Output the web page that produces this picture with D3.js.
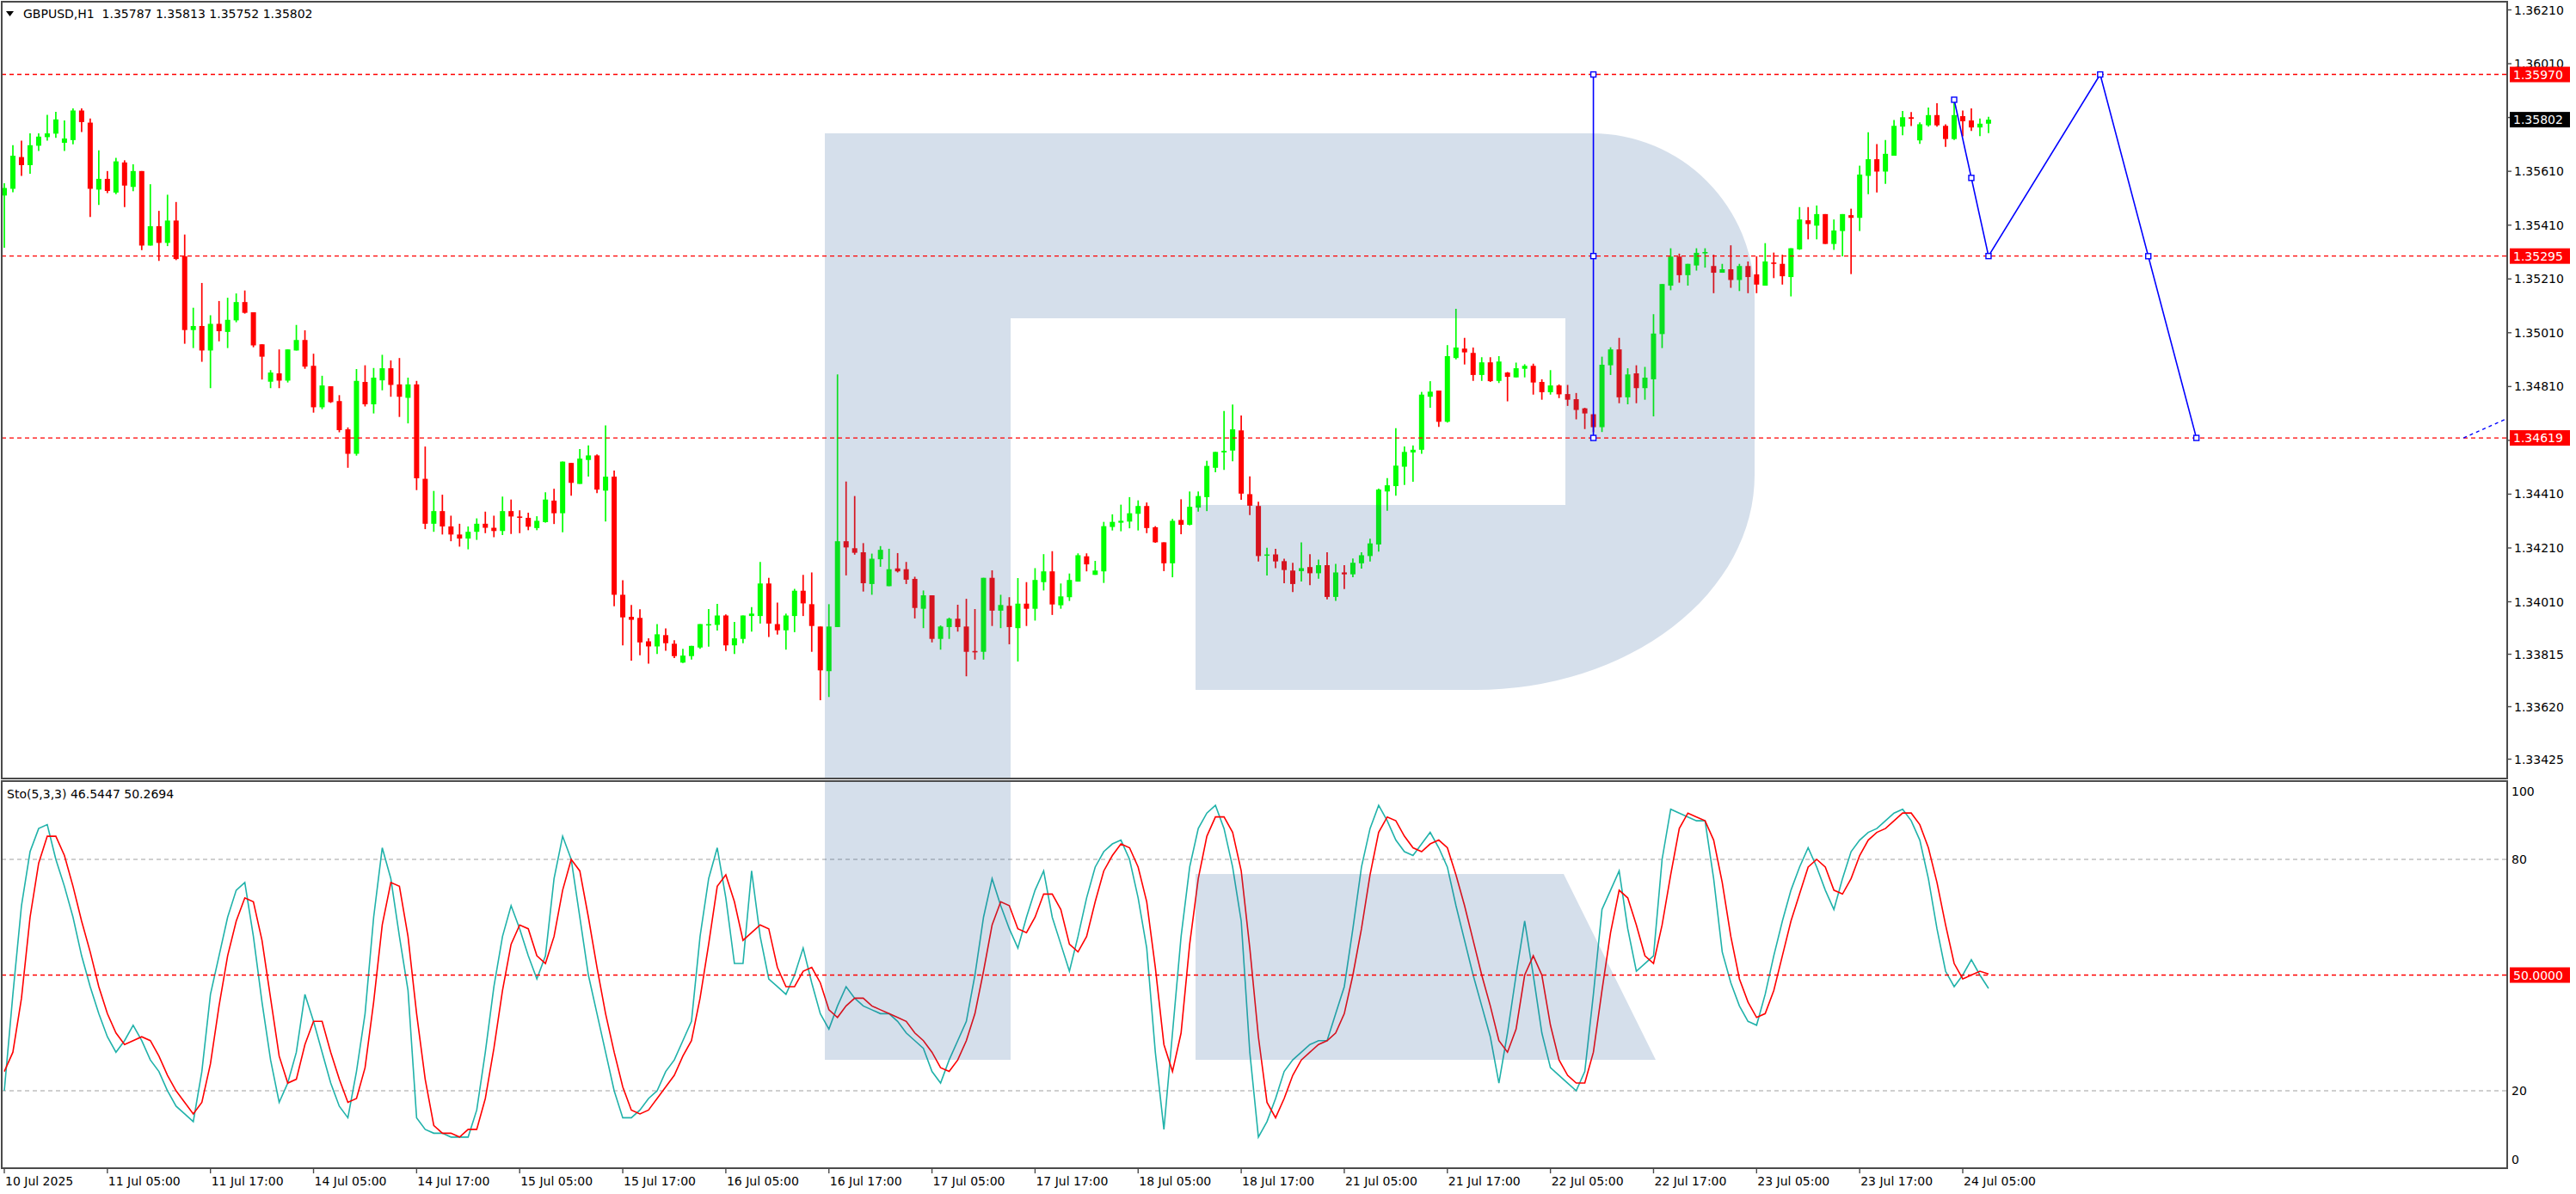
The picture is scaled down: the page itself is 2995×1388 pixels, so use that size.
<!DOCTYPE html>
<html><head><meta charset="utf-8">
<script src="https://cdn.jsdelivr.net/npm/d3@7"></script>
<style>
body{margin:0;background:#fff;}
svg{display:block;}
text{font-family:"DejaVu Sans",sans-serif;font-size:14px;fill:#000;white-space:pre;}
</style>
</head><body><svg id="c" width="2995" height="1388"></svg>
<script>
// ---------------- DATA ----------------
const headerText = "GBPUSD,H1  1.35787 1.35813 1.35752 1.35802";
const stochText = "Sto(5,3,3) 46.5447 50.2694";

const opens = [
1.35520,1.35545,1.35663,1.35633,1.35705,1.35737,1.35750,1.35716,1.35726,1.35836,
1.35791,1.35542,1.35582,1.35531,1.35643,1.35552,1.35611,1.35334,1.35406,1.35344,
1.35427,1.35294,1.35020,1.35035,1.34944,1.35043,1.35013,1.35056,1.35124,1.35086,
1.34967,1.34828,1.34859,1.34832,1.34944,1.34983,1.34887,1.34733,1.34811,1.34756,
1.34651,1.34560,1.34827,1.34744,1.34833,1.34878,1.34818,1.34768,1.34818,1.34467,
1.34300,1.34347,1.34290,1.34260,1.34245,1.34270,1.34300,1.34285,1.34273,1.34347,
1.34327,1.34322,1.34284,1.34306,1.34386,1.34339,1.34526,1.34448,1.34537,1.34554,
1.34423,1.34475,1.34036,1.33954,1.33950,1.33863,1.33844,1.33886,1.33854,1.33784,
1.33808,1.33840,1.33923,1.33924,1.33959,1.33848,1.33872,1.33957,1.33957,1.34078,
1.33927,1.33904,1.33957,1.34051,1.34001,1.33918,1.33752,1.33916,1.34235,1.34209,
1.34194,1.34076,1.34168,1.34068,1.34134,1.34131,1.34095,1.33984,1.34034,1.33872,
1.33916,1.33947,1.33918,1.33827,1.33824,1.34099,1.33977,1.33995,1.33912,1.34003,
1.33984,1.34083,1.34123,1.33997,1.34027,1.34085,1.34179,1.34110,1.34123,1.34288,
1.34304,1.34308,1.34337,1.34366,1.34287,1.34231,1.34153,1.34314,1.34296,1.34360,
1.34399,1.34508,1.34565,1.34572,1.34647,1.34410,1.34366,1.34181,1.34186,1.34161,
1.34126,1.34124,1.34139,1.34116,1.34146,1.34028,1.34119,1.34112,1.34153,1.34180,
1.34223,1.34420,1.34440,1.34512,1.34565,1.34575,1.34772,1.34795,1.34679,1.34916,
1.34951,1.34935,1.34853,1.34900,1.34831,1.34862,1.34844,1.34876,1.34887,1.34827,
1.34789,1.34814,1.34782,1.34763,1.34729,1.34707,1.34659,1.34889,1.34948,1.34770,
1.34859,1.34804,1.34837,1.35005,1.35185,1.35293,1.35224,1.35260,1.35305,1.35258,
1.35233,1.35246,1.35206,1.35258,1.35227,1.35185,1.35271,1.35266,1.35217,1.35320,
1.35428,1.35408,1.35451,1.35340,1.35388,1.35447,1.35437,1.35593,1.35655,1.35609,
1.35668,1.35776,1.35811,1.35725,1.35781,1.35819,1.35779,1.35730,1.35815,1.35799,
1.35773,1.35787];

const highs = [
1.35566,1.35707,1.35724,1.35751,1.35751,1.35820,1.35831,1.35799,1.35844,1.35844,
1.35806,1.35688,1.35611,1.35660,1.35651,1.35636,1.35611,1.35562,1.35463,1.35523,
1.35496,1.35375,1.35103,1.35195,1.35075,1.35128,1.35140,1.35156,1.35167,1.35086,
1.34967,1.34871,1.34948,1.34948,1.35039,1.35019,1.34932,1.34850,1.34811,1.34778,
1.34658,1.34875,1.34889,1.34879,1.34928,1.34907,1.34916,1.34843,1.34831,1.34587,
1.34422,1.34408,1.34330,1.34300,1.34290,1.34320,1.34345,1.34330,1.34401,1.34390,
1.34350,1.34341,1.34328,1.34417,1.34430,1.34531,1.34526,1.34578,1.34591,1.34558,
1.34666,1.34498,1.34090,1.33998,1.33982,1.33874,1.33927,1.33911,1.33867,1.33835,
1.33846,1.33927,1.33983,1.34002,1.33963,1.33935,1.33959,1.33990,1.34158,1.34099,
1.34007,1.33966,1.34058,1.34110,1.34119,1.33918,1.34001,1.34855,1.34457,1.34403,
1.34228,1.34189,1.34217,1.34207,1.34191,1.34158,1.34103,1.34052,1.34034,1.33922,
1.33951,1.33999,1.34021,1.33983,1.34099,1.34127,1.34036,1.34027,1.34098,1.34083,
1.34135,1.34187,1.34198,1.34078,1.34115,1.34190,1.34190,1.34162,1.34307,1.34335,
1.34371,1.34399,1.34387,1.34379,1.34291,1.34231,1.34318,1.34391,1.34420,1.34420,
1.34534,1.34567,1.34719,1.34743,1.34702,1.34476,1.34382,1.34211,1.34207,1.34170,
1.34155,1.34231,1.34187,1.34167,1.34194,1.34151,1.34146,1.34171,1.34194,1.34244,
1.34431,1.34470,1.34655,1.34587,1.34591,1.34790,1.34830,1.34795,1.34964,1.35099,
1.34991,1.34955,1.34919,1.34919,1.34923,1.34864,1.34899,1.34893,1.34895,1.34837,
1.34871,1.34818,1.34816,1.34786,1.34731,1.34707,1.34921,1.34956,1.34991,1.34878,
1.34889,1.34883,1.35079,1.35191,1.35324,1.35304,1.35266,1.35324,1.35324,1.35300,
1.35266,1.35335,1.35266,1.35275,1.35294,1.35343,1.35308,1.35300,1.35324,1.35477,
1.35477,1.35483,1.35451,1.35431,1.35451,1.35471,1.35631,1.35755,1.35711,1.35726,
1.35801,1.35834,1.35830,1.35792,1.35847,1.35863,1.35785,1.35878,1.35836,1.35844,
1.35806,1.35813];

const lows = [
1.35326,1.35532,1.35593,1.35601,1.35686,1.35724,1.35734,1.35686,1.35710,1.35756,
1.35440,1.35485,1.35529,1.35525,1.35477,1.35536,1.35317,1.35334,1.35277,1.35332,
1.35280,1.34969,1.34953,1.34902,1.34804,1.34978,1.34953,1.35049,1.35081,1.34956,
1.34836,1.34804,1.34804,1.34825,1.34944,1.34876,1.34713,1.34726,1.34749,1.34640,
1.34508,1.34553,1.34736,1.34710,1.34796,1.34772,1.34697,1.34673,1.34425,1.34280,
1.34270,1.34260,1.34235,1.34215,1.34205,1.34240,1.34265,1.34250,1.34258,1.34262,
1.34265,1.34276,1.34276,1.34304,1.34299,1.34268,1.34404,1.34448,1.34475,1.34414,
1.34308,1.33993,1.33848,1.33791,1.33811,1.33780,1.33816,1.33828,1.33801,1.33782,
1.33795,1.33835,1.33843,1.33903,1.33827,1.33816,1.33856,1.33899,1.33929,1.33879,
1.33888,1.33832,1.33897,1.33957,1.33824,1.33644,1.33656,1.33916,1.34108,1.34185,
1.34048,1.34036,1.34140,1.34068,1.34119,1.34076,1.33948,1.33912,1.33859,1.33832,
1.33872,1.33899,1.33733,1.33795,1.33795,1.33920,1.33912,1.33852,1.33788,1.33920,
1.33940,1.34052,1.33961,1.33984,1.34013,1.34085,1.34123,1.34110,1.34080,1.34275,
1.34272,1.34283,1.34275,1.34265,1.34229,1.34124,1.34101,1.34261,1.34294,1.34345,
1.34347,1.34491,1.34500,1.34532,1.34389,1.34332,1.34160,1.34108,1.34135,1.34079,
1.34046,1.34085,1.34072,1.34096,1.34019,1.34013,1.34057,1.34101,1.34133,1.34160,
1.34196,1.34348,1.34404,1.34444,1.34456,1.34560,1.34731,1.34660,1.34676,1.34911,
1.34892,1.34831,1.34831,1.34827,1.34823,1.34755,1.34844,1.34844,1.34780,1.34761,
1.34780,1.34767,1.34738,1.34688,1.34652,1.34641,1.34641,1.34853,1.34748,1.34744,
1.34748,1.34761,1.34699,1.34953,1.35168,1.35196,1.35185,1.35241,1.35252,1.35157,
1.35233,1.35177,1.35165,1.35157,1.35157,1.35185,1.35213,1.35189,1.35145,1.35318,
1.35357,1.35357,1.35340,1.35318,1.35294,1.35228,1.35388,1.35525,1.35531,1.35563,
1.35668,1.35744,1.35778,1.35712,1.35776,1.35776,1.35701,1.35726,1.35740,1.35760,
1.35741,1.35752];

const closes = [
1.35548,1.35668,1.35633,1.35707,1.35739,1.35751,1.35803,1.35732,1.35836,1.35793,
1.35545,1.35582,1.35537,1.35647,1.35557,1.35611,1.35334,1.35406,1.35344,1.35427,
1.35284,1.35020,1.35035,1.34944,1.35043,1.35016,1.35058,1.35124,1.35084,1.34963,
1.34921,1.34862,1.34832,1.34948,1.34983,1.34884,1.34733,1.34814,1.34752,1.34648,
1.34560,1.34831,1.34744,1.34843,1.34878,1.34816,1.34772,1.34818,1.34469,1.34300,
1.34347,1.34290,1.34260,1.34245,1.34270,1.34300,1.34285,1.34273,1.34347,1.34327,
1.34323,1.34289,1.34311,1.34390,1.34339,1.34531,1.34452,1.34542,1.34554,1.34427,
1.34475,1.34036,1.33952,1.33943,1.33859,1.33844,1.33889,1.33856,1.33808,1.33810,
1.33846,1.33927,1.33927,1.33959,1.33848,1.33874,1.33959,1.33966,1.34078,1.33929,
1.33904,1.33959,1.34051,1.34004,1.33920,1.33755,1.33918,1.34235,1.34212,1.34192,
1.34079,1.34170,1.34203,1.34131,1.34123,1.34092,1.33987,1.34034,1.33872,1.33918,
1.33947,1.33916,1.33824,1.33822,1.34099,1.33977,1.33998,1.33916,1.34003,1.33984,
1.34091,1.34123,1.34000,1.34030,1.34091,1.34183,1.34149,1.34126,1.34291,1.34307,
1.34311,1.34339,1.34366,1.34284,1.34231,1.34153,1.34311,1.34296,1.34363,1.34403,
1.34515,1.34567,1.34571,1.34651,1.34412,1.34367,1.34180,1.34186,1.34160,1.34128,
1.34076,1.34135,1.34116,1.34146,1.34028,1.34119,1.34112,1.34155,1.34183,1.34227,
1.34427,1.34443,1.34516,1.34567,1.34575,1.34780,1.34791,1.34679,1.34923,1.34955,
1.34937,1.34853,1.34900,1.34830,1.34903,1.34846,1.34878,1.34887,1.34825,1.34789,
1.34814,1.34781,1.34761,1.34723,1.34710,1.34659,1.34891,1.34948,1.34770,1.34855,
1.34804,1.34843,1.35007,1.35191,1.35293,1.35224,1.35266,1.35307,1.35310,1.35233,
1.35246,1.35206,1.35258,1.35217,1.35189,1.35275,1.35267,1.35220,1.35324,1.35431,
1.35414,1.35451,1.35340,1.35390,1.35451,1.35437,1.35598,1.35655,1.35609,1.35675,
1.35779,1.35811,1.35805,1.35785,1.35819,1.35781,1.35730,1.35819,1.35796,1.35773,
1.35787,1.35802];

const stochK = [
20,45,68,82,88,89,80,73,65,55,
47,40,34,30,33,37,33,28,25,20,
16,14,12,25,45,55,65,72,74,60,
43,28,17,22,30,45,38,30,22,16,
13,25,40,65,83,75,60,46,13,10,
9,9,8,8,8,15,30,47,60,68,
62,55,49,55,75,86,80,65,50,40,
30,20,13,13,15,18,20,25,28,33,
38,60,75,83,70,53,53,77,60,49,
47,45,50,57,48,40,36,42,47,44,
42,41,40,40,38,35,33,31,25,22,
28,33,38,50,65,75,68,62,57,65,
72,77,65,58,51,60,70,78,82,84,
85,80,70,57,30,10,35,60,78,88,
92,94,88,78,64,30,8,12,18,25,
28,30,32,33,33,40,47,62,78,88,
94,90,85,82,81,84,87,83,78,68,
59,50,42,34,22,35,50,64,50,35,
26,24,22,20,25,45,67,72,77,62,
51,53,55,80,93,92,91,90,90,75,
56,48,42,38,37,45,55,64,72,78,
83,78,72,67,75,82,85,87,88,90,
92,93,90,85,75,62,51,47,50,54,
50,46.5447];

const stochD = [
25,30,44,65,79,86,86,81,73,64,
56,47,40,35,32,33,34,33,29,24,
20,17,14,17,27,42,55,64,70,69,
59,44,29,22,23,32,38,38,30,23,
17,18,26,43,63,74,73,60,40,23,
11,9,9,8,10,10,18,31,46,58,
63,62,55,53,60,72,80,77,65,52,
40,30,21,15,14,15,18,21,24,29,
33,44,58,73,76,69,59,61,63,62,
52,47,47,51,52,48,41,39,42,44,
44,42,41,40,39,38,35,33,30,26,
25,28,33,40,51,63,69,68,62,61,
65,71,71,67,58,56,60,69,77,81,
84,83,78,69,52,32,25,35,58,75,
86,91,91,87,77,57,34,17,13,18,
24,28,30,32,33,35,40,50,62,76,
87,91,90,86,83,82,84,85,83,76,
68,59,50,42,33,30,36,50,55,50,
37,28,24,22,22,30,46,61,72,70,
63,55,53,63,76,88,92,91,90,85,
74,60,49,43,39,40,46,55,64,71,
78,80,78,72,71,75,81,85,87,88,
90,92,92,89,83,74,63,53,49,50,
51,50.2694];

const timeLabels = ["10 Jul 2025","11 Jul 05:00","11 Jul 17:00","14 Jul 05:00","14 Jul 17:00","15 Jul 05:00","15 Jul 17:00","16 Jul 05:00","16 Jul 17:00","17 Jul 05:00","17 Jul 17:00","18 Jul 05:00","18 Jul 17:00","21 Jul 05:00","21 Jul 17:00","22 Jul 05:00","22 Jul 17:00","23 Jul 05:00","23 Jul 17:00","24 Jul 05:00"];
const timeLabelBars = [0,12,24,36,48,60,72,84,96,108,120,132,144,156,168,180,192,204,216,228];

const priceTicks = [1.36210,1.36010,1.35810,1.35610,1.35410,1.35210,1.35010,1.34810,1.34610,1.34410,1.34210,1.34010,1.33815,1.33620,1.33425];
const levelPrices = [1.35970,1.35295,1.34619];
const lastPrice = 1.35802;
const stochTicks = [100,80,20,0];
const stochGrayLevels = [80,20];
const stochRedLevel = 50;

// drawn objects (bar index, price)
const vLineBar = 185;
const vLinePrices = [1.34619,1.35295,1.35970];
const zigBars = [227,231,244,255.2];
const zigPrices = [1.35876,1.35295,1.35970,1.34619];
const rayBars = [286.3,292];
const rayPrices = [1.34619,1.34700];

// ---------------- LAYOUT ----------------
const PL=2, PR=2915, PT=2, PB=905, ST=908, SB=1358;
const bull="#00ff00", bear="#ff0000";
const svg=d3.select("#c");
const x=d3.scaleLinear().domain([0,228]).range([5,2282]);
const y=d3.scaleLinear().domain([1.33425,1.36210]).range([882.5,11.5]);
const ys=d3.scaleLinear().domain([0,100]).range([1357.7,909.3]);

const defs=svg.append("defs");
defs.append("clipPath").attr("id","cp").append("rect").attr("x",PL).attr("y",PT).attr("width",PR-PL).attr("height",PB-PT);
defs.append("clipPath").attr("id","cs").append("rect").attr("x",PL).attr("y",ST).attr("width",PR-PL).attr("height",SB-ST);

svg.append("rect").attr("width",2995).attr("height",1388).attr("fill","#fff");

// ---- price pane ----
const gp=svg.append("g").attr("clip-path","url(#cp)");
const bars=opens.map((o,i)=>({i,o,h:highs[i],l:lows[i],c:closes[i]}));
const col=d=>d.c>=d.o?bull:bear;
gp.selectAll("line.wick").data(bars).join("line").attr("class","wick")
  .attr("x1",d=>x(d.i)).attr("x2",d=>x(d.i))
  .attr("y1",d=>y(d.h)).attr("y2",d=>y(d.l))
  .attr("stroke",col).attr("stroke-width",1.7);
gp.selectAll("rect.body").data(bars).join("rect").attr("class","body")
  .attr("x",d=>x(d.i)-3).attr("width",6)
  .attr("y",d=>y(Math.max(d.o,d.c)))
  .attr("height",d=>Math.max(1.6,Math.abs(y(d.o)-y(d.c))))
  .attr("fill",col);

// ---- stochastic pane ----
const gs=svg.append("g").attr("clip-path","url(#cs)");
gs.selectAll("line.glev").data(stochGrayLevels).join("line")
  .attr("x1",PL).attr("x2",PR).attr("y1",d=>ys(d)).attr("y2",d=>ys(d))
  .attr("stroke","#c0c0c0").attr("stroke-width",1.3).attr("stroke-dasharray","5,4");
const line=d3.line().x((d,i)=>x(i)).y(d=>ys(d));
gs.append("path").datum(stochK).attr("d",line).attr("fill","none").attr("stroke","#20b2aa").attr("stroke-width",1.6);
gs.append("path").datum(stochD).attr("d",line).attr("fill","none").attr("stroke","#ff0000").attr("stroke-width",1.6);

// ---- watermark (logo overlay) ----
const wmFill="rgba(45,95,155,0.2)";
gp.append("path").attr("fill",wmFill)
  .attr("d","M959,155 H1851 A189,190 0 0 1 2040,345 V552 A325,250 0 0 1 1715,802 H1390 V587 H1820 V370 H1175 V905 H959 Z");
gs.append("path").attr("fill",wmFill)
  .attr("d","M959,908 H1175 V1232 H959 Z M1390,1016 H1818 L1925,1232 H1390 Z");

// stoch 50 level
gs.append("line").attr("x1",PL).attr("x2",PR).attr("y1",ys(stochRedLevel)).attr("y2",ys(stochRedLevel))
  .attr("stroke","#ff0000").attr("stroke-width",1.3).attr("stroke-dasharray","5,4");

// price levels
gp.selectAll("line.lev").data(levelPrices).join("line").attr("class","lev")
  .attr("x1",PL).attr("x2",PR).attr("y1",d=>y(d)).attr("y2",d=>y(d))
  .attr("stroke","#ff0000").attr("stroke-width",1.4).attr("stroke-dasharray","5,4");

// blue objects
const blue="#0000ff";
gp.append("line").attr("x1",x(vLineBar)).attr("x2",x(vLineBar))
  .attr("y1",y(vLinePrices[0])).attr("y2",y(vLinePrices[2]))
  .attr("stroke",blue).attr("stroke-width",1.6);
const zig=zigBars.map((b,i)=>[b,zigPrices[i]]);
gp.append("path").datum(zig).attr("d",d3.line().x(d=>x(d[0])).y(d=>y(d[1])))
  .attr("fill","none").attr("stroke",blue).attr("stroke-width",1.6);
gp.append("line").attr("x1",x(rayBars[0])).attr("x2",x(rayBars[1]))
  .attr("y1",y(rayPrices[0])).attr("y2",y(rayPrices[1]))
  .attr("stroke",blue).attr("stroke-width",1.4).attr("stroke-dasharray","4,4");
const handles=[];
vLinePrices.forEach(p=>handles.push([vLineBar,p]));
handles.push(zig[0],[(zig[0][0]+zig[1][0])/2,(zig[0][1]+zig[1][1])/2],zig[1],zig[2],
  [(zig[2][0]+zig[3][0])/2,(zig[2][1]+zig[3][1])/2],zig[3]);
gp.selectAll("rect.h").data(handles).join("rect").attr("class","h")
  .attr("x",d=>x(d[0])-3).attr("y",d=>y(d[1])-3).attr("width",6).attr("height",6)
  .attr("fill","#fff").attr("stroke",blue).attr("stroke-width",1.4);

// ---- frames ----
svg.append("rect").attr("x",PL).attr("y",PT).attr("width",PR-PL).attr("height",PB-PT)
  .attr("fill","none").attr("stroke","#4a4a4a").attr("stroke-width",2);
svg.append("rect").attr("x",PL).attr("y",ST).attr("width",PR-PL).attr("height",SB-ST)
  .attr("fill","none").attr("stroke","#4a4a4a").attr("stroke-width",2);

// header
svg.append("path").attr("d","M7,13 L16,13 L11.5,19 Z").attr("fill","#000");
svg.append("text").attr("x",27).attr("y",21).text(headerText);
svg.append("text").attr("x",8).attr("y",928).text(stochText);

// ---- price axis ----
const fmt=d3.format(".5f");
svg.selectAll("line.pt").data(priceTicks).join("line").attr("class","pt")
  .attr("x1",PR).attr("x2",PR+5).attr("y1",d=>y(d)).attr("y2",d=>y(d)).attr("stroke","#4a4a4a").attr("stroke-width",1.4);
svg.selectAll("text.pt").data(priceTicks).join("text").attr("class","pt")
  .attr("x",PR+8).attr("y",d=>y(d)).attr("dominant-baseline","central").text(fmt);
// level labels
const boxLabel=(yy,txt,bg)=>{
  svg.append("rect").attr("x",PR+3).attr("y",yy-9).attr("width",70).attr("height",18).attr("fill",bg);
  svg.append("text").attr("x",PR+7).attr("y",yy).attr("dominant-baseline","central").style("fill","#fff").text(txt);
};
levelPrices.forEach(p=>boxLabel(y(p),fmt(p),"#ff0000"));
boxLabel(y(lastPrice),fmt(lastPrice),"#000");

// ---- stochastic axis ----
svg.selectAll("text.st").data(stochTicks).join("text").attr("class","st")
  .attr("x",PR+5).attr("y",d=>Math.min(Math.max(ys(d),920),1348)).attr("dominant-baseline","central").text(d=>d);
boxLabel(ys(stochRedLevel),"50.0000","#ff0000");

// ---- time axis ----
svg.selectAll("line.tt").data(timeLabelBars).join("line").attr("class","tt")
  .attr("x1",d=>x(d)).attr("x2",d=>x(d)).attr("y1",SB).attr("y2",SB+6).attr("stroke","#4a4a4a").attr("stroke-width",1.4);
svg.selectAll("text.tt").data(timeLabelBars).join("text").attr("class","tt")
  .attr("x",d=>x(d)+1).attr("y",1378).text((d,i)=>timeLabels[i]);
</script>
</body></html>
